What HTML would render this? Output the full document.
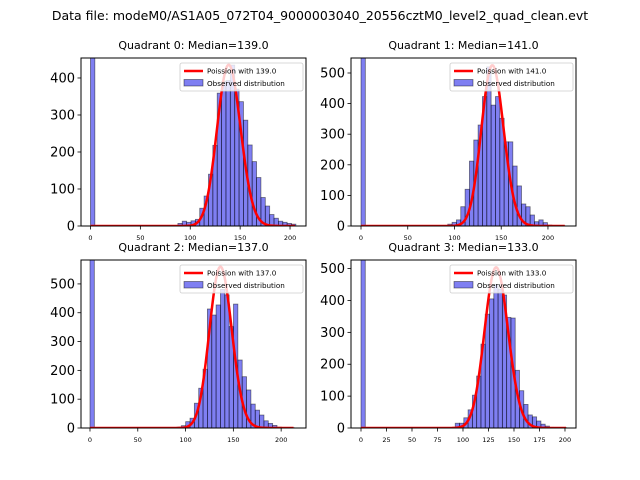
<!DOCTYPE html>
<html><head><meta charset="utf-8"><style>
body{margin:0;background:#fff;}
svg{display:block;font-family:"DejaVu Sans","Liberation Sans",sans-serif;}
</style></head><body>
<svg id="chart" width="640" height="480" viewBox="0 0 640 480">
<text x="320" y="20" text-anchor="middle" font-size="12.5">Data file: modeM0/AS1A05_072T04_9000003040_20556cztM0_level2_quad_clean.evt</text>
</svg>
<script>
const medians = [139.0, 141.0, 137.0, 133.0];
const binWidths = [4.38, 4.64, 4.55, 4.2];
const zeroBin = [2000, 2000, 2000, 2000];
const startBins = [20, 19, 20, 22];
const counts0 = [7,13,10,14,18,48,81,140,218,359,390,393,435,370,336,286,219,174,131,77,54,31,21,13,10,7,5];
const counts1 = [2,6,12,20,63,120,212,281,330,423,520,395,423,352,275,275,196,131,72,63,36,14,20,11,3,2,1,1];
const counts2 = [3,8,22,34,86,138,204,413,392,427,481,462,352,430,236,178,132,83,62,45,25,16,9,3,1,1,1];
const counts3 = [15,15,32,57,103,163,263,357,405,450,436,417,347,345,181,117,74,41,35,22,12,6,2,1,1,1];
const totals = [2940, 3370, 3610, 3470];
const yMax = [454, 549, 583, 527];
const xMin = [-9.5, -10.7, -9.4, -9.8];
const xMax = [216, 230, 226, 210.8];
const yTicks0 = [0,100,200,300,400];
const yTicks1 = [0,100,200,300,400,500];
const xTicks0 = [0,50,100,150,200];
const xTicks3 = [0,25,50,75,100,125,150,175,200];
const allCounts = [counts0, counts1, counts2, counts3];
const allYTicks = [yTicks0, yTicks1, yTicks1, yTicks1];
const allXTicks = [xTicks0, xTicks0, xTicks0, xTicks3];

const NS = "http://www.w3.org/2000/svg";
const svg = document.getElementById('chart');
function mk(tag, attrs, parent){const e=document.createElementNS(NS,tag);for(const k in attrs)e.setAttribute(k,attrs[k]);(parent||svg).appendChild(e);return e;}
const boxes = [[81,58,306,226],[351,58,576,226],[81,260,306,428],[351,260,576,428]];

function lgamma(z){
  return (z-0.5)*Math.log(z)-z+0.5*Math.log(2*Math.PI)+1/(12*z)-1/(360*z*z*z);
}
function pois(k,l){ if(k<1) return Math.exp(-l); return Math.exp(k*Math.log(l)-l-lgamma(k+1)); }

for(let q=0;q<4;q++){
  const [L,T,R,B]=boxes[q];
  const sx=d=>L+(d-xMin[q])/(xMax[q]-xMin[q])*(R-L);
  const sy=v=>B-v/yMax[q]*(B-T);
  const g=mk('g',{});
  
  
  const clip=mk('clipPath',{id:'c'+q},g);
  mk('rect',{x:L,y:T,width:R-L,height:B-T},clip);
  const plot=mk('g',{'clip-path':'url(#c'+q+')'},g);
  const w=binWidths[q];
  const z=mk('rect',{x:sx(0),y:sy(zeroBin[q]),width:sx(w)-sx(0),height:sy(0)-sy(zeroBin[q]),fill:'rgba(0,0,230,0.5)',stroke:'rgba(0,0,0,0.5)','stroke-width':0.8},plot);
  
  
  const c=allCounts[q];
  for(let i=0;i<c.length;i++){
    const x0=(startBins[q]+i)*w;
    const r=mk('rect',{x:sx(x0),y:sy(c[i]),width:sx(x0+w)-sx(x0),height:sy(0)-sy(c[i]),fill:'rgba(0,0,230,0.5)',stroke:'rgba(0,0,0,0.5)','stroke-width':0.8},plot);
    
    
  }
  const lam=medians[q]; const end=(startBins[q]+c.length)*w;
  let pts=[];
  for(let k=0;k<=end;k+=1){pts.push(sx(k).toFixed(2)+','+sy(pois(k,lam)*totals[q]*w).toFixed(2));}
  const pl=mk('polyline',{points:pts.join(' '),fill:'none',stroke:'#ff0000','stroke-width':2.5,'stroke-linejoin':'round'},plot);
  
  
  mk('rect',{x:L,y:T,width:R-L,height:B-T,fill:'none',stroke:'#000','stroke-width':1},g);
  allYTicks[q].forEach(v=>{
    const y=sy(v);
    mk('line',{x1:L-3.5,x2:L,y1:y,y2:y,stroke:'#000','stroke-width':0.8},g);
    const t=mk('text',{x:L-6,y:y+4.5,'text-anchor':'end','font-size':13},g);
    t.textContent=v;
    
    
  });
  allXTicks[q].forEach(v=>{
    const x=sx(v);
    mk('line',{x1:x,x2:x,y1:B,y2:B+3.5,stroke:'#000','stroke-width':0.8},g);
    const t=mk('text',{x:x,y:B+14,'text-anchor':'middle','font-size':6.5},g);
    t.textContent=v;
    
    
  });
  const ti=mk('text',{x:(L+R)/2,y:T-9,'text-anchor':'middle','font-size':11},g);
  ti.textContent='Quadrant '+q+': Median='+medians[q].toFixed(1);
  
  
  const lg=mk('g',{},g);
  
  
  const lx=R-126, ly=T+5;
  mk('rect',{x:lx,y:ly,width:123,height:28,fill:'#fff','fill-opacity':0.8,stroke:'#ccc','stroke-width':0.8,rx:2},lg);
  mk('line',{x1:lx+4,x2:lx+23,y1:ly+8,y2:ly+8,stroke:'#ff0000','stroke-width':2.5},lg);
  mk('rect',{x:lx+4,y:ly+16.5,width:19,height:6.5,fill:'rgba(0,0,230,0.5)',stroke:'rgba(0,0,0,0.5)','stroke-width':0.8},lg);
  const t1=mk('text',{x:lx+27,y:ly+10.5,'font-size':7.2},lg);
  t1.textContent='Poission with '+medians[q].toFixed(1);
  
  
  const t2=mk('text',{x:lx+27,y:ly+23,'font-size':7.2},lg);
  t2.textContent='Observed distribution';
  
  
}
</script>
</body></html>
